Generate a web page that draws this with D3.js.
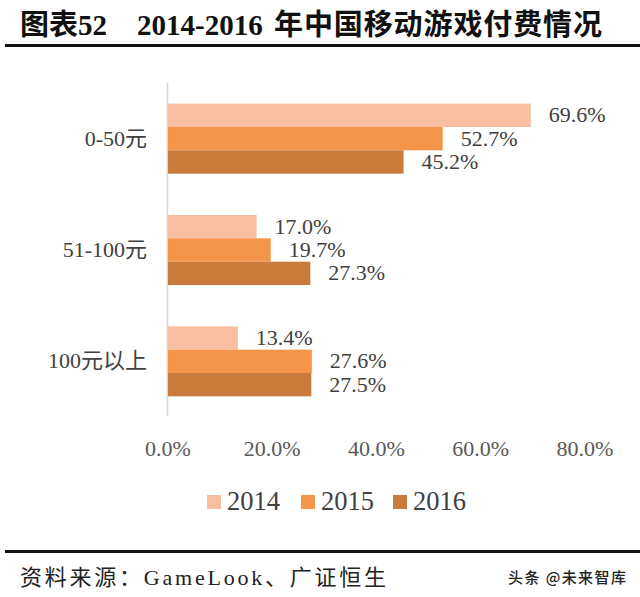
<!DOCTYPE html>
<html><head><meta charset="utf-8">
<script src="https://cdn.jsdelivr.net/npm/d3@7"></script>
<style>body{margin:0;background:#fff}</style>
</head><body>
<script>
const categories = ["0-50元", "51-100元", "100元以上"];
const years = ["2014", "2015", "2016"];
const values2014 = [69.6, 17.0, 13.4];
const values2015 = [52.7, 19.7, 27.6];
const values2016 = [45.2, 27.3, 27.5];
const xTicks = [0, 20, 40, 60, 80];
const colors = ["#F7BF9F", "#F5954A", "#C97B3B"];

const series = [values2014, values2015, values2016];
const W = 640, H = 597;
const svg = d3.select("body").append("svg").attr("width", W).attr("height", H);
const serif = "'Liberation Serif', 'Noto Sans CJK SC', serif";

// title
svg.append("text").attr("x", 20).attr("y", 35).attr("font-family", serif)
  .attr("font-weight", "bold").attr("font-size", 29).attr("fill", "#111").text("图表52");
svg.append("text").attr("x", 137).attr("y", 35).attr("font-family", serif)
  .attr("font-weight", "bold").attr("font-size", 29).attr("fill", "#111").text("2014-2016");
svg.append("text").attr("x", 274).attr("y", 35).attr("font-family", serif)
  .attr("font-weight", "bold").attr("font-size", 29).attr("fill", "#111")
  .attr("textLength", 328).attr("lengthAdjust", "spacing").text("年中国移动游戏付费情况");
svg.append("rect").attr("x", 5).attr("y", 44).attr("width", 635).attr("height", 3).attr("fill", "#111");

// scales
const x = d3.scaleLinear().domain([0, 80]).range([168, 585]);
const y = d3.scaleBand().domain(categories).range([83, 417]).paddingInner(0.371).paddingOuter(0.1855);
const yInner = d3.scaleBand().domain(years).range([0, y.bandwidth()]);

// axis line
svg.append("line").attr("x1", 167.5).attr("x2", 167.5).attr("y1", 83).attr("y2", 416)
  .attr("stroke", "#d4d4d4").attr("stroke-width", 1.5);

// bars
categories.forEach((c, ci) => {
  years.forEach((yr, si) => {
    const v = series[si][ci];
    svg.append("rect").attr("x", x(0)).attr("y", y(c) + yInner(yr))
      .attr("width", x(v) - x(0)).attr("height", yInner.bandwidth()).attr("fill", colors[si]);
    svg.append("text").attr("x", x(v) + 18).attr("y", y(c) + yInner(yr) + yInner.bandwidth() / 2 + 2)
      .attr("dominant-baseline", "middle").attr("font-family", serif).attr("font-size", 22)
      .attr("fill", "#404040").text(v.toFixed(1) + "%");
  });
});

// category labels
svg.append("g").selectAll("text").data(categories).join("text")
  .attr("x", 147).attr("y", d => y(d) + y.bandwidth() / 2 + 2)
  .attr("text-anchor", "end").attr("dominant-baseline", "middle")
  .attr("font-family", serif).attr("font-size", 22).attr("fill", "#404040").text(d => d);

// x tick labels
svg.append("g").selectAll("text").data(xTicks).join("text")
  .attr("x", d => x(d)).attr("y", 451).attr("text-anchor", "middle").attr("dominant-baseline", "middle")
  .attr("font-family", serif).attr("font-size", 22).attr("fill", "#595959").text(d => d.toFixed(1) + "%");

// legend
const legX = [207, 301, 393];
years.forEach((yr, i) => {
  svg.append("rect").attr("x", legX[i]).attr("y", 495).attr("width", 14).attr("height", 14).attr("fill", colors[i]);
  svg.append("text").attr("x", legX[i] + 20).attr("y", 504).attr("dominant-baseline", "middle")
    .attr("font-family", serif).attr("font-size", 26.5).attr("fill", "#404040").text(yr);
});

// footer
svg.append("rect").attr("x", 5).attr("y", 550).attr("width", 635).attr("height", 3).attr("fill", "#111");
svg.append("text").attr("x", 20).attr("y", 580).attr("dominant-baseline", "middle")
  .attr("font-family", serif).attr("font-size", 22).attr("fill", "#222")
  .attr("textLength", 366).attr("lengthAdjust", "spacing").text("资料来源：GameLook、广证恒生");
svg.append("text").attr("x", 508).attr("y", 579).attr("dominant-baseline", "middle")
  .attr("font-family", "'Noto Sans CJK SC', sans-serif").attr("font-size", 15).attr("font-weight", 500).attr("fill", "#222")
  .attr("textLength", 118).attr("lengthAdjust", "spacing").text("头条 @未来智库");
</script>
</body></html>
